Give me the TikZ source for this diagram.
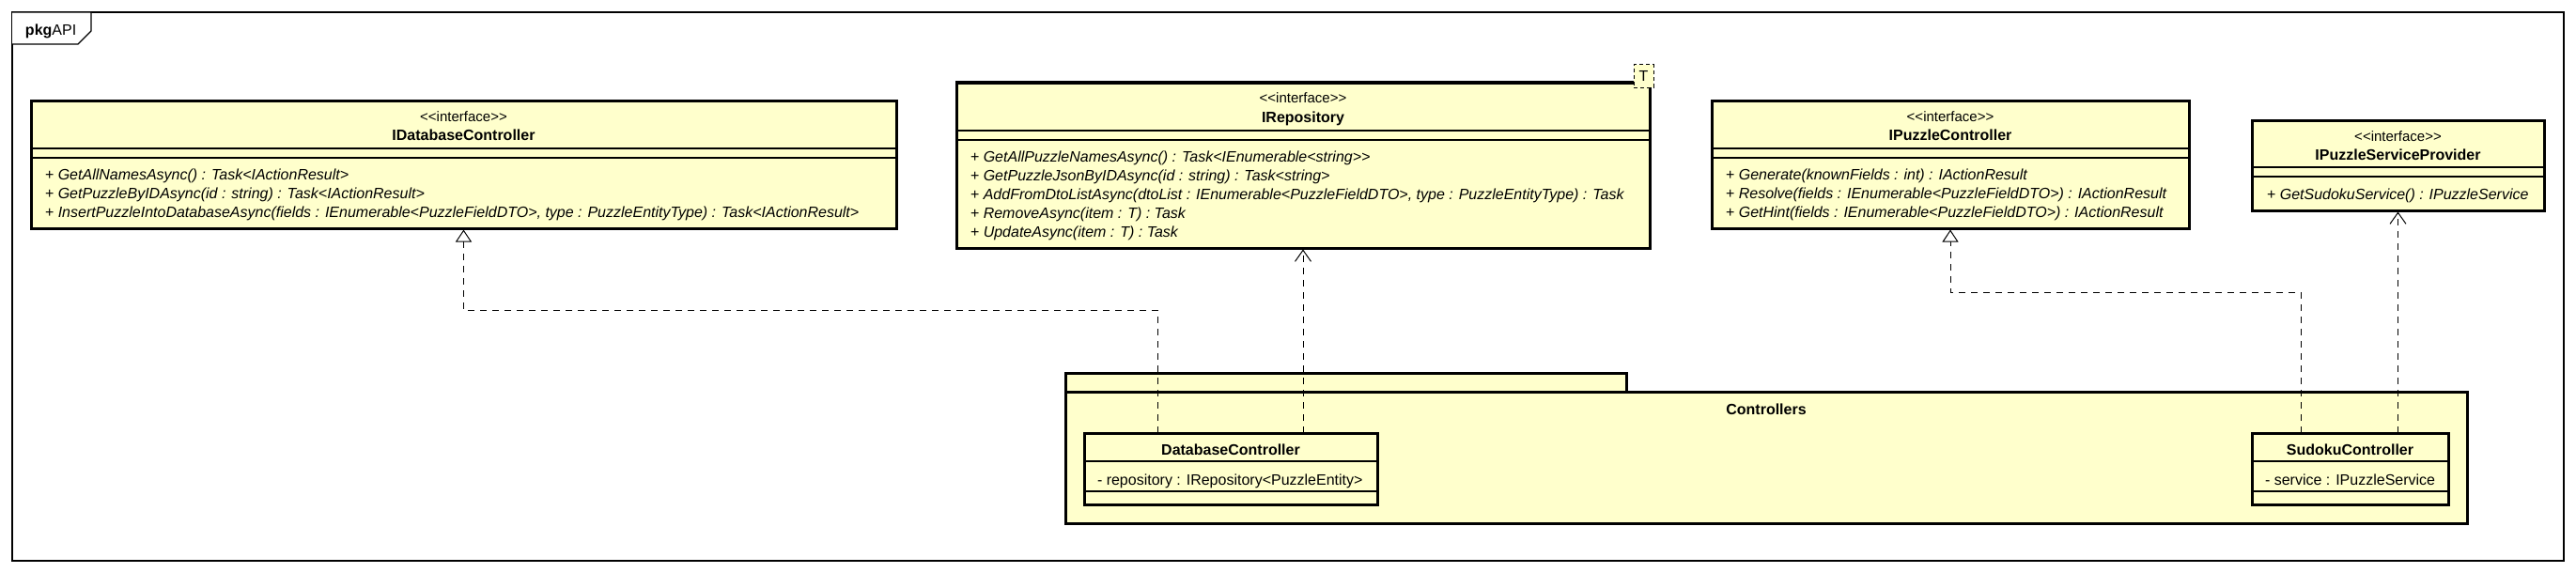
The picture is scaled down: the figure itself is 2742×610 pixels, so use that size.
\documentclass[tikz,border=0pt]{standalone}
\usepackage{fontspec}
\setmainfont{Liberation Sans}
\usetikzlibrary{arrows.meta}
\definecolor{umlfill}{HTML}{FFFFCC}
\begin{document}
\begin{tikzpicture}[x=1pt,y=-1pt,
  box/.style={draw, line width=3pt, fill=umlfill, anchor=north west, outer sep=0pt, inner sep=0pt},
  sepline/.style={line width=1.1pt},
  txt/.style={inner sep=0pt, outer sep=0pt, font=\fontsize{16pt}{20pt}\selectfont},
  ctr/.style={txt, anchor=base},
  lft/.style={txt, anchor=base west},
  stereo/.style={ctr, font=\fontsize{15pt}{18pt}\selectfont},
  cname/.style={ctr, font=\fontsize{16pt}{20pt}\selectfont\bfseries},
  dashline/.style={draw, line width=1pt, dash pattern=on 7pt off 6pt},
  realiz/.style={dashline, shorten >=1.5pt, -{Triangle[length=13pt,width=17pt,fill=white,line width=1pt]}},
  depend/.style={dashline, shorten >=1.5pt, -{Straight Barb[length=12pt,width=17pt,line width=1pt]}},
  tparam/.style={draw, line width=1pt, dash pattern=on 4pt off 3pt, fill=umlfill, minimum width=21pt, minimum height=24pt, inner sep=0pt, outer sep=0pt, font=\fontsize{16pt}{20pt}\selectfont}
]
\fill[white] (0,0) rectangle (2742,610);
\path[use as bounding box] (0,0) rectangle (2742,610);

% outer frame
\node[draw, line width=1.3pt, anchor=north west, outer sep=0pt, inner sep=0pt, minimum width=2716pt, minimum height=584pt] (frame) at (13,13) {};
\draw[line width=1.3pt, fill=white] (frame.north west) -- (97,13) -- (97,33) -- (83,47) -- (13,47);
\node[lft] (pkglbl) at (27,38) {\textbf{pkg}API};

% IDatabaseController
\node[box, minimum width=921pt, minimum height=136pt] (idc) at (33,107) {};
\draw[sepline] ([yshift=-51pt]idc.north west) -- ([yshift=-51pt]idc.north east);
\draw[sepline] ([yshift=-61pt]idc.north west) -- ([yshift=-61pt]idc.north east);
\node[stereo] (idc-s) at ([yshift=-22pt]idc.north) {<{}<interface>{}>};
\node[cname] (idc-n) at ([yshift=-42pt]idc.north) {IDatabaseController};
\node[lft] (idc-m1) at ([xshift=15pt,yshift=-84pt]idc.north west) {+ \textit{GetAllNamesAsync() : Task<IActionResult>}};
\node[lft] (idc-m2) at ([xshift=15pt,yshift=-104pt]idc.north west) {+ \textit{GetPuzzleByIDAsync(id : string) : Task<IActionResult>}};
\node[lft] (idc-m3) at ([xshift=15pt,yshift=-124pt]idc.north west) {+ \textit{InsertPuzzleIntoDatabaseAsync(fields : IEnumerable<PuzzleFieldDTO>, type : PuzzleEntityType) : Task<IActionResult>}};

% IRepository
\node[box, minimum width=738pt, minimum height=176pt] (irepo) at (1018,88) {};
\draw[sepline] ([yshift=-51pt]irepo.north west) -- ([yshift=-51pt]irepo.north east);
\draw[sepline] ([yshift=-61pt]irepo.north west) -- ([yshift=-61pt]irepo.north east);
\node[stereo] (irepo-s) at ([yshift=-22pt]irepo.north) {<{}<interface>{}>};
\node[cname] (irepo-n) at ([yshift=-42pt]irepo.north) {IRepository};
\node[lft] (irepo-m1) at ([xshift=15pt,yshift=-84pt]irepo.north west) {+ \textit{GetAllPuzzleNamesAsync() : Task<IEnumerable<string>{}>}};
\node[lft] (irepo-m2) at ([xshift=15pt,yshift=-104pt]irepo.north west) {+ \textit{GetPuzzleJsonByIDAsync(id : string) : Task<string>}};
\node[lft] (irepo-m3) at ([xshift=15pt,yshift=-124pt]irepo.north west) {+ \textit{AddFromDtoListAsync(dtoList : IEnumerable<PuzzleFieldDTO>, type : PuzzleEntityType) : Task}};
\node[lft] (irepo-m4) at ([xshift=15pt,yshift=-144pt]irepo.north west) {+ \textit{RemoveAsync(item : T) : Task}};
\node[lft] (irepo-m5) at ([xshift=15pt,yshift=-164pt]irepo.north west) {+ \textit{UpdateAsync(item : T) : Task}};
\node[tparam] (tpar) at (1749.5,81) {T};

% IPuzzleController
\node[box, minimum width=508pt, minimum height=136pt] (ipc) at (1822,107) {};
\draw[sepline] ([yshift=-51pt]ipc.north west) -- ([yshift=-51pt]ipc.north east);
\draw[sepline] ([yshift=-61pt]ipc.north west) -- ([yshift=-61pt]ipc.north east);
\node[stereo] (ipc-s) at ([yshift=-22pt]ipc.north) {<{}<interface>{}>};
\node[cname] (ipc-n) at ([yshift=-42pt]ipc.north) {IPuzzleController};
\node[lft] (ipc-m1) at ([xshift=15pt,yshift=-84pt]ipc.north west) {+ \textit{Generate(knownFields : int) : IActionResult}};
\node[lft] (ipc-m2) at ([xshift=15pt,yshift=-104pt]ipc.north west) {+ \textit{Resolve(fields : IEnumerable<PuzzleFieldDTO>) : IActionResult}};
\node[lft] (ipc-m3) at ([xshift=15pt,yshift=-124pt]ipc.north west) {+ \textit{GetHint(fields : IEnumerable<PuzzleFieldDTO>) : IActionResult}};

% IPuzzleServiceProvider
\node[box, minimum width=311pt, minimum height=96pt] (ipsp) at (2397,128) {};
\draw[sepline] ([yshift=-50pt]ipsp.north west) -- ([yshift=-50pt]ipsp.north east);
\draw[sepline] ([yshift=-60pt]ipsp.north west) -- ([yshift=-60pt]ipsp.north east);
\node[stereo] (ipsp-s) at ([yshift=-22pt]ipsp.north) {<{}<interface>{}>};
\node[cname] (ipsp-n) at ([yshift=-42pt]ipsp.north) {IPuzzleServiceProvider};
\node[lft] (ipsp-m1) at ([xshift=16pt,yshift=-84pt]ipsp.north west) {+ \textit{GetSudokuService() : IPuzzleService}};

% Controllers package
\node[box, minimum width=597pt, minimum height=20pt] (ctab) at (1134,397) {};
\node[box, minimum width=1492pt, minimum height=140pt] (ctrl) at (1134,417) {};
\node[cname] (ctrl-n) at ([yshift=-24pt]ctrl.north) {Controllers};

% DatabaseController
\node[box, minimum width=312pt, minimum height=76pt] (dbc) at (1154,461) {};
\draw[sepline] ([yshift=-30pt]dbc.north west) -- ([yshift=-30pt]dbc.north east);
\draw[sepline] ([yshift=-62pt]dbc.north west) -- ([yshift=-62pt]dbc.north east);
\node[cname] (dbc-n) at ([yshift=-23pt]dbc.north) {DatabaseController};
\node[lft] (dbc-a1) at ([xshift=14pt,yshift=-55pt]dbc.north west) {- repository : IRepository<PuzzleEntity>};

% SudokuController
\node[box, minimum width=209pt, minimum height=76pt] (sdc) at (2397,461) {};
\draw[sepline] ([yshift=-30pt]sdc.north west) -- ([yshift=-30pt]sdc.north east);
\draw[sepline] ([yshift=-62pt]sdc.north west) -- ([yshift=-62pt]sdc.north east);
\node[cname] (sdc-n) at ([yshift=-23pt]sdc.north) {SudokuController};
\node[lft] (sdc-a1) at ([xshift=14pt,yshift=-55pt]sdc.north west) {- service : IPuzzleService};

% connectors
\coordinate (b1) at (1232,330);
\coordinate (b3) at (2449,311);
\draw[realiz] (b1 |- dbc.north) -- (b1) -| (idc.south);
\draw[depend] (irepo.south |- dbc.north) -- (irepo.south);
\draw[realiz] (b3 |- sdc.north) -- (b3) -| (ipc.south);
\draw[depend] (ipsp.south |- sdc.north) -- (ipsp.south);
\end{tikzpicture}
\end{document}
